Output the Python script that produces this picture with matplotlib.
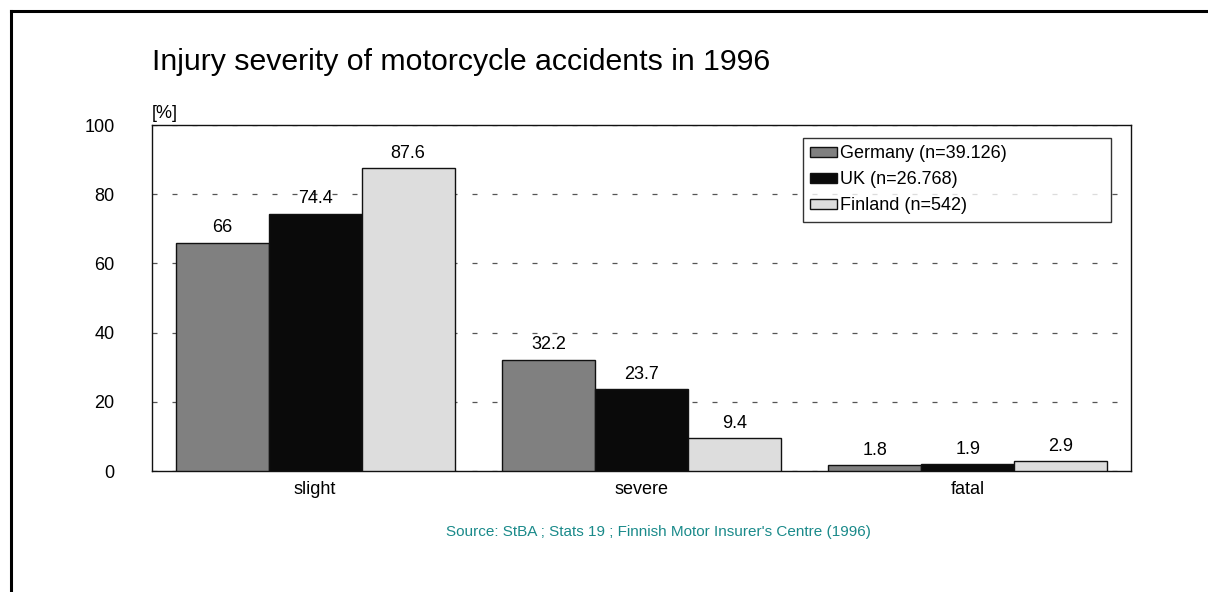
import matplotlib.pyplot as plt
import numpy as np

plt.rcParams['font.family'] = ['Liberation Sans', 'DejaVu Sans']

categories = ['slight', 'severe', 'fatal']
series = ['Germany (n=39.126)', 'UK (n=26.768)', 'Finland (n=542)']
germany = [66, 32.2, 1.8]
uk = [74.4, 23.7, 1.9]
finland = [87.6, 9.4, 2.9]
labels = [['66', '32.2', '1.8'], ['74.4', '23.7', '1.9'], ['87.6', '9.4', '2.9']]
colors = ['#808080', '#0a0a0a', '#dddddd']

fig = plt.figure(figsize=(12.08, 5.92), dpi=100)
W, H = 1208, 592

# outer frame (left and top edges visible)
fig.add_artist(plt.Line2D([10.5 / W, 10.5 / W], [0, 1 - 10.5 / H], color='black', lw=2.2,
                          transform=fig.transFigure))
fig.add_artist(plt.Line2D([10.5 / W, 1], [1 - 10.5 / H, 1 - 10.5 / H], color='black', lw=2.2,
                          transform=fig.transFigure))

left, right, top, bottom = 152, 1131, 125, 471
ax = fig.add_axes([left / W, 1 - bottom / H, (right - left) / W, (bottom - top) / H])

fs = 13
x = np.arange(len(categories))
w = 0.285
for i, vals in enumerate([germany, uk, finland]):
    pos = x + (i - 1) * w
    ax.bar(pos, vals, width=w, color=colors[i], edgecolor='#111111', linewidth=1.0,
           label=series[i], zorder=3)
    for p, v, t in zip(pos, vals, labels[i]):
        ax.text(p, v + 1.8, t, ha='center', va='bottom', fontsize=fs, zorder=4)

ax.set_xlim(-0.5, 2.5)
ax.set_ylim(0, 100)
ax.set_yticks([0, 20, 40, 60, 80, 100])
ax.set_xticks(x)
ax.set_xticklabels(categories)
ax.tick_params(axis='y', length=0, pad=27, labelsize=fs)
ax.tick_params(axis='x', length=0, pad=7, labelsize=fs)
ax.yaxis.grid(True, color='#555555', linestyle=(0, (4, 12)), linewidth=0.9, zorder=0)
for s in ax.spines.values():
    s.set_linewidth(1.0)
    s.set_color('#111111')

ax.text(0, 1.01, '[%]', transform=ax.transAxes, ha='left', va='bottom', fontsize=fs)
fig.text(left / W, 1 - 62 / H, 'Injury severity of motorcycle accidents in 1996',
         ha='left', va='center', fontsize=21.8)
fig.text(658 / W, 1 - 532 / H, "Source: StBA ; Stats 19 ; Finnish Motor Insurer's Centre (1996)",
         ha='center', va='center', fontsize=11, color='#1a8a8a')

# legend box spans a fixed width like the original
lx0 = (803 - left) / (right - left)
lw_ = (1111 - 803) / (right - left)
ly1 = (bottom - 138) / (bottom - top)
leg = ax.legend(loc='upper left', bbox_to_anchor=(lx0, ly1 - 0.3, lw_, 0.3), mode='expand',
                fontsize=fs, frameon=True, fancybox=False, edgecolor='black',
                handlelength=1.5, handleheight=0.5, handletextpad=0.15,
                borderpad=0.4, labelspacing=0.5, borderaxespad=0)
leg.get_frame().set_linewidth(1.0)
leg.set_zorder(5)

fig.savefig('out.png', dpi=100)
